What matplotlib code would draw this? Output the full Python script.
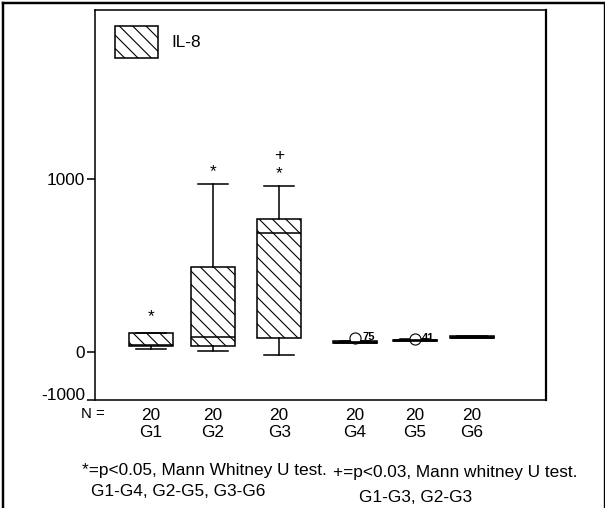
import numpy as np
import matplotlib
matplotlib.use("Agg")
import matplotlib.pyplot as plt
from matplotlib.patches import Patch
from matplotlib.lines import Line2D

# ---------------- data ----------------
groups = ["G1", "G2", "G3", "G4", "G5", "G6"]
n_counts = [20, 20, 20, 20, 20, 20]
q1 = [33, 35, 81, 52, 62, 82]
medians = [40, 87, 690, 58, 68, 87]
q3 = [110, 490, 772, 60, 70, 90]
whis_lo = [17, 2, -60, 55, 65, 85]
whis_hi = [110, 973, 963, 62, 72, 92]
outliers = [[], [], [], [80], [75], []]
outlier_ids = [[], [], [], ["75"], ["41"], []]
star_marks = [203, 1044, 1035, None, None, None]
plus_marks = [None, None, 1141, None, None, None]
yticks = [-1000, 0, 1000]
legend_label = "IL-8"
note_star = ["*=p<0.05, Mann Whitney U test.", "G1-G4, G2-G5, G3-G6"]
note_plus = ["+=p<0.03, Mann whitney U test.", "G1-G3, G2-G3"]

# ---------------- layout ----------------
W, H, DPI = 605, 508, 80
positions = [0.9, 1.9, 2.97, 4.19, 5.16, 6.08]
FS = 15.5
HATCH = "\\\\"

plt.rcParams["font.family"] = ["Liberation Sans", "DejaVu Sans"]
plt.rcParams["hatch.linewidth"] = 1.0
plt.rcParams["hatch.color"] = "black"

fig = plt.figure(figsize=(W / DPI, H / DPI), dpi=DPI)
fig.patch.set_facecolor("white")
ax = fig.add_axes([95 / W, 1 - 400 / H, (546 - 95) / W, (400 - 9.5) / H])

k = 48.3 / 172.4


def fwd(y):
    y = np.asarray(y, dtype=float)
    return np.where(y >= 0, y, y * k)


def inv(u):
    u = np.asarray(u, dtype=float)
    return np.where(u >= 0, u, u / k)


ax.set_yscale("function", functions=(fwd, inv))

stats = []
for i, g in enumerate(groups):
    stats.append(dict(label=f"{n_counts[i]}\n{g}", q1=q1[i], med=medians[i],
                      q3=q3[i], whislo=whis_lo[i], whishi=whis_hi[i],
                      fliers=outliers[i]))

lw = 1.4
bp = ax.bxp(stats, positions=positions, widths=0.71, capwidths=0.48,
            patch_artist=True, showfliers=True,
            boxprops=dict(facecolor="white", edgecolor="black", linewidth=lw, hatch=HATCH),
            whiskerprops=dict(color="black", linewidth=lw),
            capprops=dict(color="black", linewidth=lw),
            medianprops=dict(color="black", linewidth=lw),
            flierprops=dict(marker="o", markersize=10, markerfacecolor="white",
                            markeredgecolor="black", markeredgewidth=1.0))
# the nearly flat boxes of G4-G6 look heavier in the reference
for i in range(3, 6):
    bp["medians"][i].set_linewidth(2.4)

# case labels for outliers
for i, ids in enumerate(outlier_ids):
    for v, t in zip(outliers[i], ids):
        ax.text(positions[i] + 0.12, v + 5, t, fontsize=10, fontweight="bold",
                ha="left", va="center")

# significance marks
for i in range(len(groups)):
    if star_marks[i] is not None:
        ax.text(positions[i], star_marks[i], "*", fontsize=FS, ha="center", va="center")
    if plus_marks[i] is not None:
        ax.text(positions[i], plus_marks[i], "+", fontsize=FS, ha="center", va="center")

ax.set_xlim(0, 451 / 62)
ax.set_ylim(-1000, 1985)
ax.set_yticks(yticks)
ax.set_yticklabels([str(t) for t in yticks])
ax.yaxis.set_minor_locator(matplotlib.ticker.NullLocator())
ax.tick_params(axis="y", length=7.2, width=lw, direction="out", pad=2, labelsize=FS)
ax.tick_params(axis="x", length=0, pad=7, labelsize=FS)
for lab in ax.get_yticklabels():
    if lab.get_text() == "-1000":
        lab.set_verticalalignment("baseline")

for s in ax.spines.values():
    s.set_linewidth(lw)
    s.set_color("black")
ax.spines["right"].set_linewidth(2.0)

leg = ax.legend(handles=[Patch(facecolor="white", edgecolor="black", hatch=HATCH, linewidth=lw)],
                labels=[legend_label], loc="upper left", frameon=False,
                bbox_to_anchor=(115 / W, 1 - 26 / H), bbox_transform=fig.transFigure,
                borderaxespad=0, borderpad=0, fontsize=FS,
                handlelength=2.5, handleheight=2.45, handletextpad=0.8)

fig.text(93 / W, 1 - 414 / H, "N =", fontsize=FS - 2, ha="center", va="center")

fig.text(82 / W, 1 - 470 / H, note_star[0], fontsize=FS, ha="left", va="center")
fig.text(91 / W, 1 - 492 / H, note_star[1], fontsize=FS, ha="left", va="center")
fig.text(333 / W, 1 - 473 / H, note_plus[0], fontsize=FS, ha="left", va="center")
fig.text(359 / W, 1 - 497 / H, note_plus[1], fontsize=FS, ha="left", va="center")

# outer frame
fig.add_artist(Line2D([2.5 / W, 2.5 / W], [0, 1 - 2.5 / H], color="black", lw=2.2))
fig.add_artist(Line2D([2.5 / W, 1], [1 - 3 / H, 1 - 3 / H], color="black", lw=2.2))
fig.add_artist(Line2D([603.5 / W, 603.5 / W], [0, 1 - 3 / H], color="black", lw=1.2))

fig.savefig("out.png", dpi=DPI)
